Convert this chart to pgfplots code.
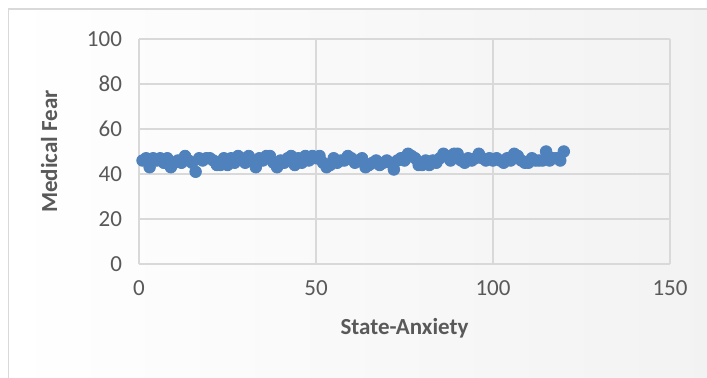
\documentclass[border=0pt]{standalone}
\usepackage{pgfplots}
\pgfplotsset{compat=1.18}
\usepackage{fontspec}
\setmainfont{Carlito}
\definecolor{txtgray}{HTML}{595959}
\definecolor{gridgray}{HTML}{D9D9D9}
\definecolor{dotblue}{HTML}{4F81BD}
\pgfplotstableread{
x y
1 46
2 47
3 43
4 47
5 46
6 47
7 45
8 47
9 43
10 45
11 46
12 45
13 48
14 46
15 45
16 41
17 47
18 46
19 47
20 47
21 46
22 44
23 44
24 47
25 44
26 47
27 45
28 48
29 47
30 45
31 48
32 46
33 43
34 47
35 46
36 48
37 48
38 45
39 43
40 46
41 45
42 47
43 48
44 44
45 47
46 45
47 48
48 46
49 48
50 47
51 48
52 45
53 43
54 44
55 47
56 45
57 46
58 46
59 48
60 47
61 45
62 46
63 47
64 43
65 44
66 45
67 46
68 44
69 45
70 46
71 45
72 42
73 46
74 47
75 46
76 49
77 48
78 47
79 44
80 44
81 46
82 44
83 46
84 45
85 47
86 49
87 48
88 46
89 49
90 49
91 46
92 45
93 47
94 46
95 47
96 49
97 47
98 46
99 47
100 46
101 47
102 46
103 45
104 47
105 46
106 49
107 48
108 46
109 45
110 45
111 47
112 46
113 46
114 46
115 50
116 46
117 47
118 47
119 46
120 50
}\datatable
\begin{document}
\begin{tikzpicture}
\path[use as bounding box] (0,0) rectangle (353.5pt,188.5pt);
\shade[left color=white, right color=black!5] (4pt,0pt) rectangle (353.5pt,184pt);
\draw[gridgray, line width=0.6pt] (4.3pt,-1pt) -- (4.3pt,184pt) -- (355pt,184pt);
\begin{axis}[
  at={(69.5pt,56.5pt)}, anchor=south west,
  scale only axis, width=265.5pt, height=112.5pt,
  xmin=0, xmax=150, ymin=0, ymax=100,
  xtick={0,50,100,150}, ytick={0,20,40,60,80,100},
  grid=major, grid style={gridgray, line width=0.75pt},
  axis line style={draw=none}, major tick length=0pt,
  /pgf/number format/assume math mode=true,
  tick label style={font=\fontsize{11.5}{13}\selectfont, text=txtgray},
  xticklabel style={yshift=-5pt},
  yticklabel style={xshift=-5pt},
  xlabel={State-Anxiety}, ylabel={Medical Fear},
  label style={font=\fontsize{11.5}{13}\selectfont\bfseries, text=txtgray},
  xlabel style={yshift=-4pt},
  ylabel style={yshift=8pt},
  clip=false,
]
\addplot[only marks, mark=*, mark size=2.9pt, color=dotblue] table[x=x,y=y] {\datatable};
\end{axis}
\end{tikzpicture}
\end{document}
